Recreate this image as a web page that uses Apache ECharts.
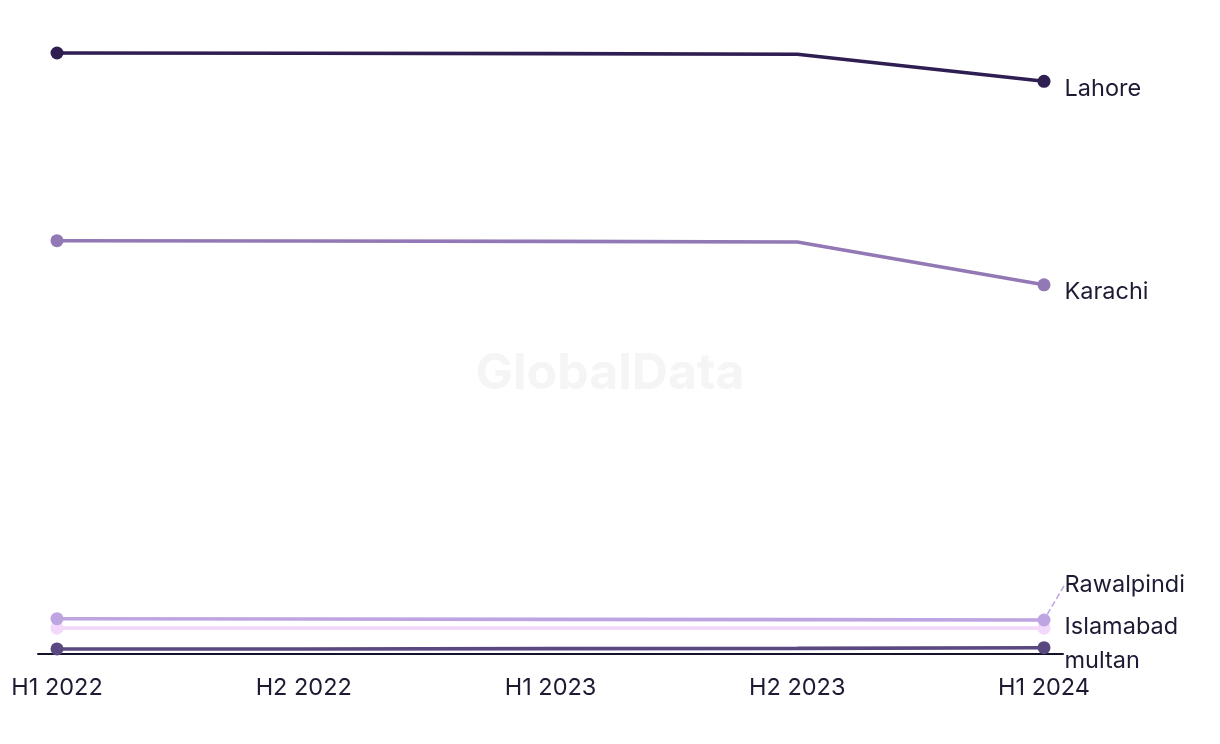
<!DOCTYPE html>
<html>
<head>
<meta charset="utf-8">
<script src="https://cdn.jsdelivr.net/npm/echarts@6/dist/echarts.min.js"></script>
<style>
html,body{margin:0;padding:0;background:#fff;}
#chart{width:1220px;height:744px;}
</style>
</head>
<body>
<div id="chart"></div>
<script>
const categories = ['H1 2022', 'H2 2022', 'H1 2023', 'H2 2023', 'H1 2024'];
const cityNames = ['Lahore', 'Karachi', 'Rawalpindi', 'Islamabad', 'multan'];
const lahore = [95.4, 95.35, 95.3, 95.2, 90.9];
const karachi = [65.6, 65.55, 65.5, 65.4, 58.6];
const rawalpindi = [5.6, 5.55, 5.5, 5.45, 5.4];
const islamabad = [4.1, 4.1, 4.1, 4.1, 4.1];
const multan = [0.8, 0.8, 0.85, 0.9, 1.0];

const seriesValues = [lahore, karachi, rawalpindi, islamabad, multan];
const colors = ['#2f1e52', '#9279b5', '#bea4e1', '#f2d9fb', '#5a4880'];
const labelOffsets = [8, 7, 1, -1, 13];
const FONT = 'Inter';
const TEXT = '#1d1b33';

const series = seriesValues.map((vals, si) => ({
  name: cityNames[si],
  type: 'line',
  z: 10 - si,
  lineStyle: { color: colors[si], width: 3.6 },
  itemStyle: { color: colors[si] },
  symbolSize: 13,
  showSymbol: true,
  emphasis: { disabled: true },
  silent: true,
  data: vals.map((v, i) => {
    const last = i === vals.length - 1;
    const item = { value: [i, v], symbol: (i === 0 || last) ? 'circle' : 'none' };
    if (last) {
      item.label = {
        show: true,
        position: 'right',
        distance: 14,
        offset: [0, labelOffsets[si]],
        formatter: cityNames[si],
        color: TEXT,
        fontFamily: FONT,
        fontSize: 23.5
      };
    }
    return item;
  }),
  labelLine: si === 2 ? { show: true, lineStyle: { color: colors[si], width: 1.5, type: 'dashed' } } : { show: false },
  labelLayout: si === 2 ? { dy: -35 } : undefined
}));

const chart = echarts.init(document.getElementById('chart'), null, { renderer: 'canvas' });
chart.setOption({
  animation: false,
  backgroundColor: '#ffffff',
  graphic: [{
    type: 'text',
    left: 'center',
    top: 349,
    silent: true,
    style: { text: 'GlobalData', fontFamily: FONT, fontWeight: 'bold', fontSize: 50, fill: '#f5f5f5' }
  }],
  grid: { left: 38, right: 157, top: 24, bottom: 90, containLabel: false },
  xAxis: {
    type: 'value',
    min: -0.077,
    max: 4.077,
    splitLine: { show: false },
    axisTick: { show: false },
    axisLine: { show: true, lineStyle: { color: '#15132a', width: 2 } },
    axisLabel: {
      customValues: [0, 1, 2, 3, 4],
      formatter: v => categories[Math.round(v)],
      color: TEXT,
      fontFamily: FONT,
      fontSize: 23.5,
      margin: 22
    }
  },
  yAxis: {
    type: 'value',
    min: 0,
    max: 100,
    show: false
  },
  series: series
});
</script>
</body>
</html>
